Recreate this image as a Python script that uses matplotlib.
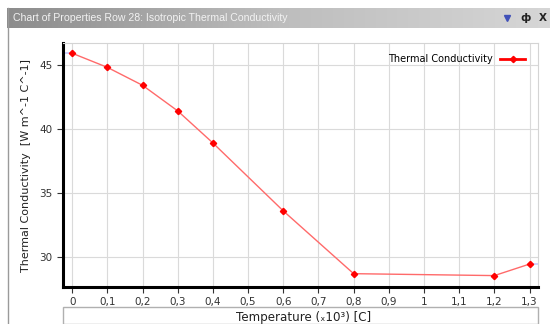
import numpy as np
import matplotlib.pyplot as plt
import matplotlib.patches as patches
from matplotlib.colors import LinearSegmentedColormap

# data
temperature = [0.0, 0.1, 0.2, 0.3, 0.4, 0.6, 0.8, 1.2, 1.3]
conductivity = [45.9, 44.8, 43.4, 41.4, 38.9, 33.6, 28.7, 28.55, 29.45]
x_ticks = [0.0, 0.1, 0.2, 0.3, 0.4, 0.5, 0.6, 0.7, 0.8, 0.9, 1.0, 1.1, 1.2, 1.3]
x_tick_labels = ["0", "0,1", "0,2", "0,3", "0,4", "0,5", "0,6", "0,7",
                 "0,8", "0,9", "1", "1,1", "1,2", "1,3"]
y_ticks = [30, 35, 40, 45]

W, H = 550, 324
fig = plt.figure(figsize=(W / 100, H / 100), dpi=100)
fig.patch.set_facecolor("white")

# window title bar with gradient
bar = fig.add_axes([7 / W, 1 - 28 / H, (W - 7) / W, 20 / H])
grad = np.linspace(0, 1, 256).reshape(1, -1)
cmap = LinearSegmentedColormap.from_list("bar", ["#8c8c8c", "#bdbdbd", "#d6d6d6"])
bar.imshow(grad, aspect="auto", cmap=cmap, extent=[0, 1, 0, 1])
bar.set_xlim(0, 1)
bar.set_ylim(0, 1)
bar.axis("off")
bar.text(6 / (W - 7), 0.5, "Chart of Properties Row 28: Isotropic Thermal Conductivity",
         color="#f2f2f2", fontsize=7.6, family="Liberation Sans", va="center", ha="left")
bar.plot([0.921], [0.52], marker="v", markersize=4, color="#4050b8", lw=0)
bar.text(0.955, 0.5, "\u0444", color="#222222", fontsize=7.5, fontweight="bold",
         va="center", ha="center")
bar.text(0.987, 0.5, "X", color="#222222", fontsize=7.5, fontweight="bold",
         va="center", ha="center")

# left window border
fig.add_artist(plt.Line2D([8 / W, 8 / W], [0, 1 - 8 / H], color="#9a9a9a", lw=1))

# main plot
ax = fig.add_axes([63 / W, 1 - 287 / H, (538 - 63) / W, (287 - 43) / H])
xmin, xmax = -0.026, 1.324
ymin, ymax = 27.66, 46.7
ax.set_xlim(xmin, xmax)
ax.set_ylim(ymin, ymax)

ax.grid(True, color="#dadada", lw=0.8)
ax.set_axisbelow(True)

# faint extrapolation segments at the ends
ax.plot([xmin, temperature[0]], [conductivity[0]] * 2, color="#c8ccff", lw=1.2)
ax.plot([temperature[-1], xmax], [conductivity[-1]] * 2, color="#c8ccff", lw=1.2)

ax.plot(temperature, conductivity, color="#ff6a6a", lw=1.0, marker="D",
        markersize=3.2, markerfacecolor="red", markeredgecolor="red",
        label="Thermal Conductivity")

ax.set_xticks(x_ticks)
ax.set_xticklabels(x_tick_labels)
ax.set_yticks(y_ticks)
ax.tick_params(labelsize=7.5, labelcolor="#333333", length=4, width=0.8, color="#333333")

for side in ("left", "bottom"):
    ax.spines[side].set_linewidth(2.2)
    ax.spines[side].set_color("black")
for side in ("top", "right"):
    ax.spines[side].set_linewidth(0.8)
    ax.spines[side].set_color("#d4d4d4")

ax.set_ylabel("Thermal Conductivity  [W m^-1 C^-1]", fontsize=8, color="#222222",
              labelpad=6)

leg = ax.legend(loc="upper right", frameon=False, markerfirst=False, fontsize=7,
                handlelength=2.6, borderaxespad=0.4, bbox_to_anchor=(0.99, 0.985))
leg.get_lines()[0].set_linewidth(2.0)
leg.get_lines()[0].set_color("red")

# x label box
fig.add_artist(patches.Rectangle((63 / W, 0), (538 - 63) / W, (H - 307) / H,
                                 transform=fig.transFigure, facecolor="white",
                                 edgecolor="#b0b0b0", lw=1))
fig.text(304 / W, 1 - 317 / H, "Temperature (\u209310\u00b3) [C]", fontsize=8.6,
         color="#222222", ha="center", va="center")

fig.savefig("out.png", dpi=100)
